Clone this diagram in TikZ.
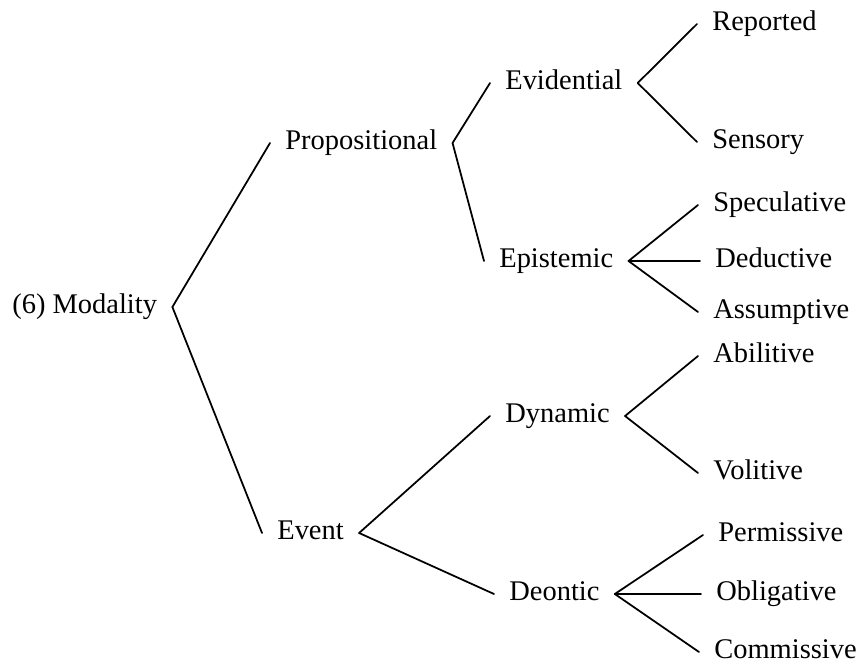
\documentclass[tikz,border=0pt]{standalone}
\usepackage{fontspec}
\setmainfont{Liberation Serif}
\usepackage{tikz}
\usetikzlibrary{positioning}

\begin{document}
\begin{tikzpicture}[
  font=\fontsize{16.2pt}{19pt}\selectfont,
  cat/.style={anchor=west, inner xsep=0.3cm, inner ysep=0pt, text height=0.78em, text depth=0pt},
  br/.style={line width=1pt, line cap=round}
]
\useasboundingbox (0,0) rectangle (17.24,13.36);
% root
\node[cat] (modality) at (-0.06,7.22) {(6) Modality};
% first level
\node[cat] (prop) at (5.40,10.50) {Propositional};
\node[cat] (event) at (5.24,2.70) {Event};
% second level
\node[cat] (evid) at (9.80,11.70) {Evidential};
\node[cat] (epis) at (9.68,8.14) {Epistemic};
\node[cat] (dyn) at (9.80,5.04) {Dynamic};
\node[cat] (deon) at (9.88,1.48) {Deontic};
% leaves
\node[cat] (rep) at (13.94,12.88) {Reported};
\node[cat] (sens) at (13.94,10.52) {Sensory};
\node[cat] (spec) at (13.96,9.26) {Speculative};
\node[cat] (ded) at (14.00,8.14) {Deductive};
\node[cat] (ass) at (13.96,7.12) {Assumptive};
\node[cat] (abil) at (13.96,6.24) {Abilitive};
\node[cat] (vol) at (13.96,3.90) {Volitive};
\node[cat] (perm) at (14.06,2.66) {Permissive};
\node[cat] (obl) at (14.02,1.48) {Obligative};
\node[cat] (comm) at (13.98,0.32) {Commissive};
% branches
\foreach \a/\b in {modality/prop, modality/event, prop/evid, prop/epis,
  event/dyn, event/deon, evid/rep, evid/sens, epis/spec, epis/ded, epis/ass,
  dyn/abil, dyn/vol, deon/perm, deon/obl, deon/comm}{
  \draw[br] (\a.east) -- (\b.west);
}
\end{tikzpicture}
\end{document}
